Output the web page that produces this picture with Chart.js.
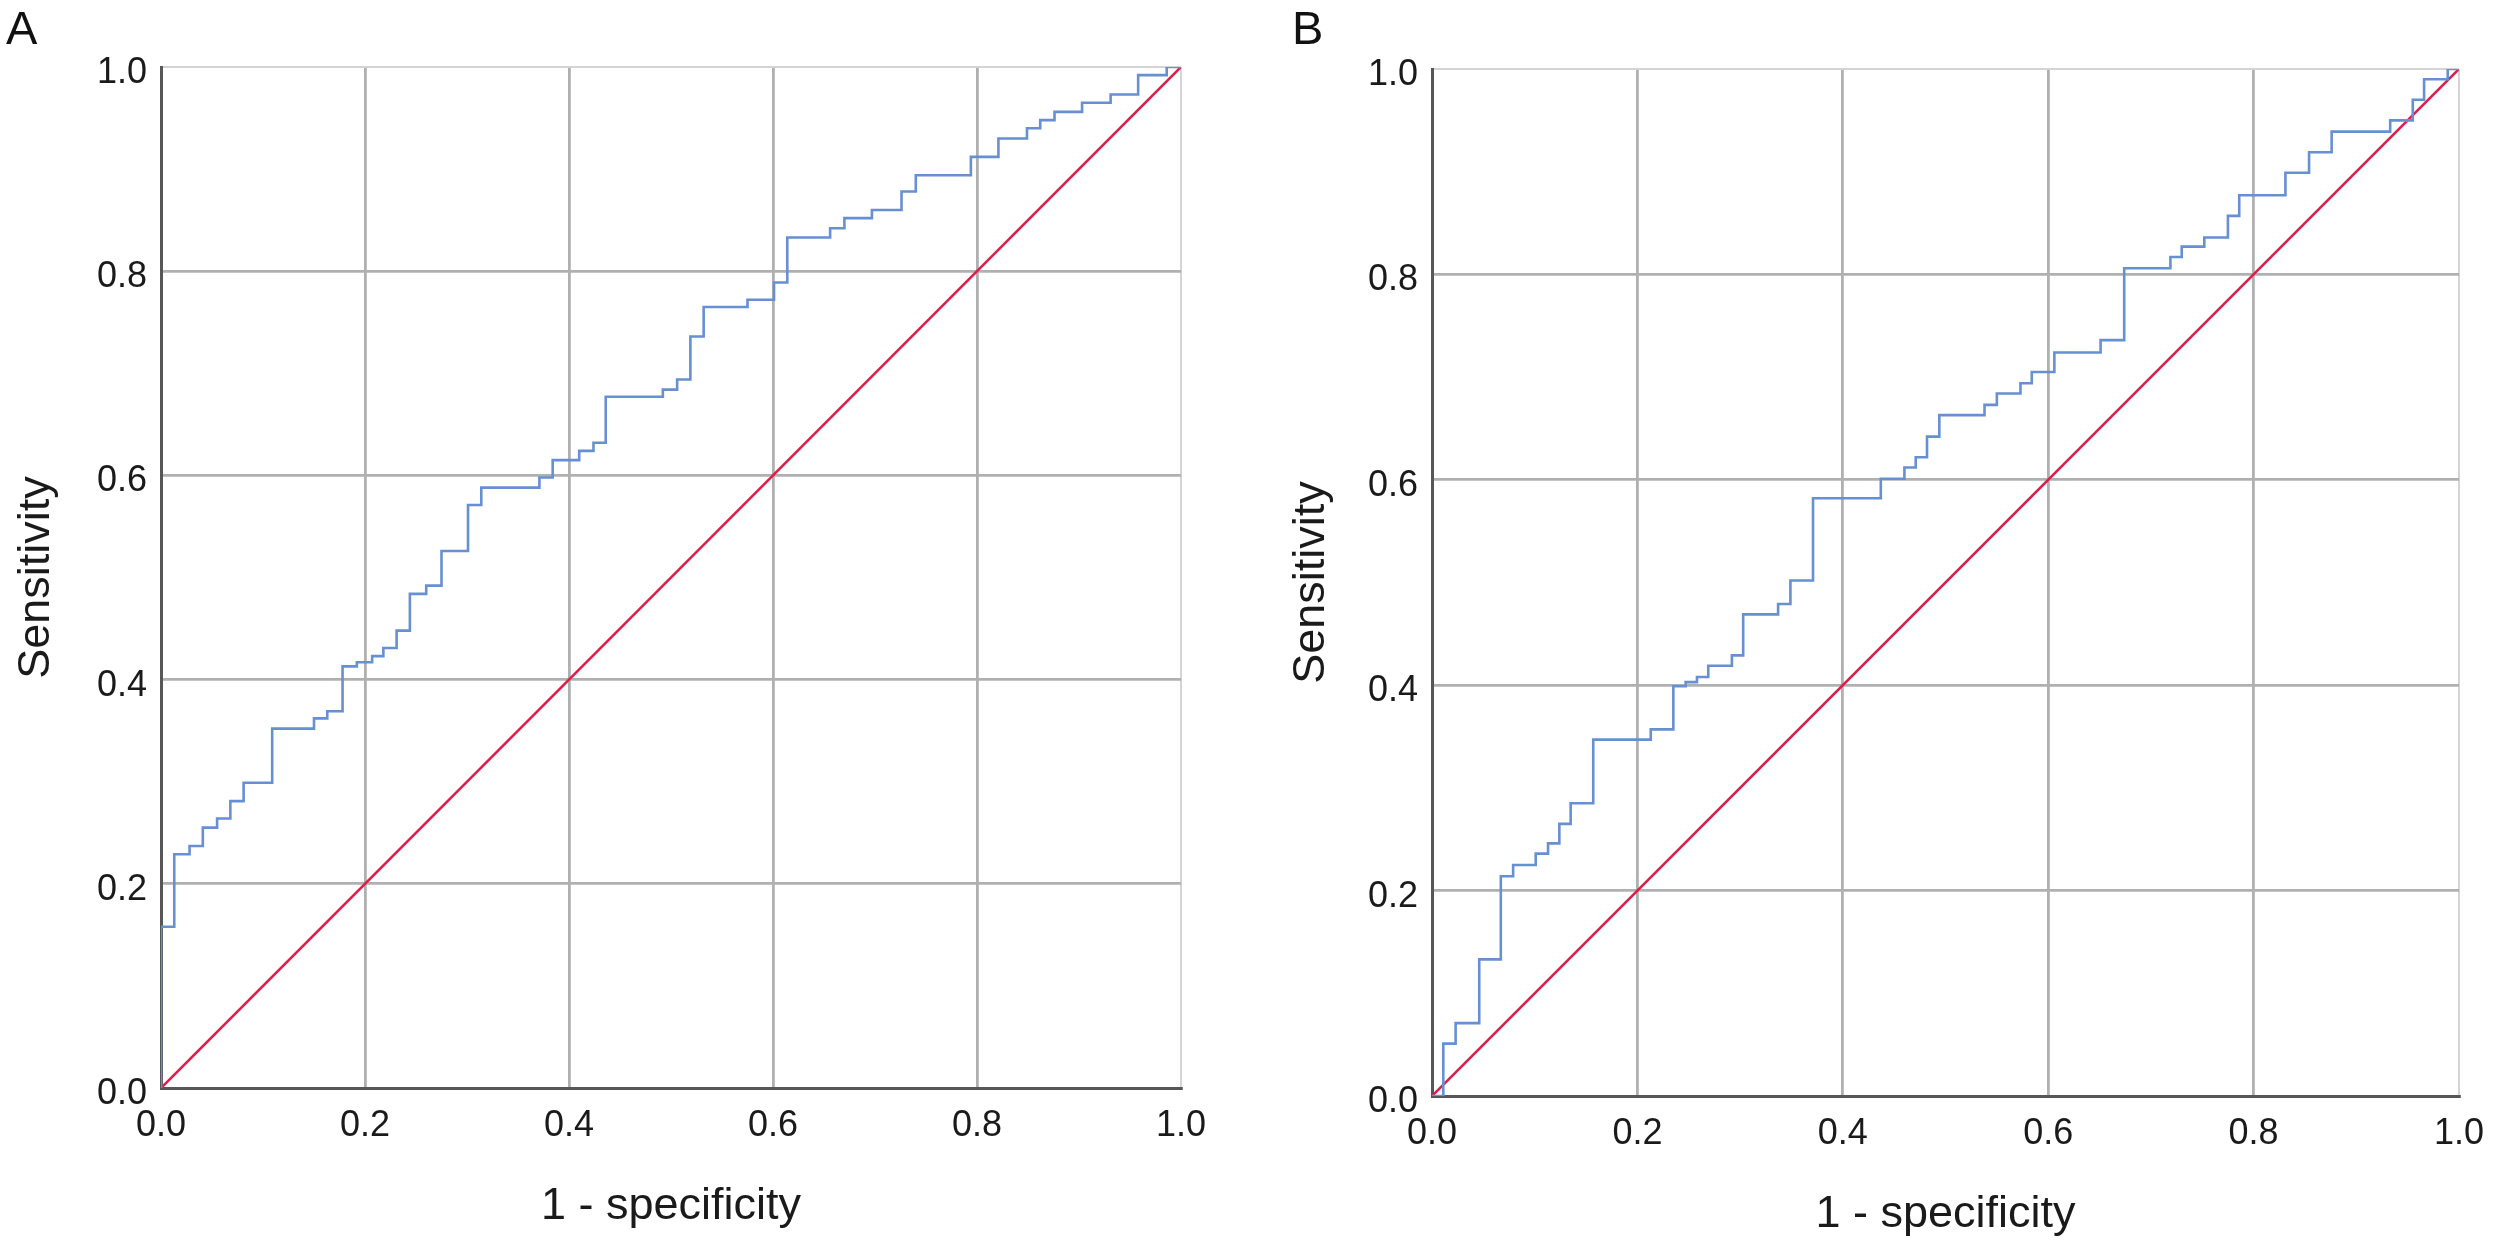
<!DOCTYPE html>
<html>
<head>
<meta charset="utf-8">
<script src="https://cdn.jsdelivr.net/npm/chart.js@4.4.1/dist/chart.umd.min.js"></script>
<style>
html, body { margin: 0; padding: 0; background: #fff; }
body { width: 2508px; height: 1258px; position: relative; overflow: hidden; }
.panel { position: absolute; top: 0; width: 1254px; height: 1258px; }
.tag { position: absolute; top: 0px; font: 47px "Liberation Sans", Arial, sans-serif; color: #111; line-height: 1.2; }
</style>
</head>
<body>
<div class="panel" style="left:0"><canvas id="rocA"></canvas></div>
<div class="panel" style="left:1254px"><canvas id="rocB"></canvas></div>
<div class="tag" style="left:6px">A</div>
<div class="tag" style="left:1292px">B</div>
<script>
// ROC curve A: step vertices (1 - specificity, sensitivity)
var rocAx = [0, 0, 0.013, 0.028, 0.041, 0.055, 0.068, 0.081, 0.109, 0.150, 0.163, 0.178, 0.192, 0.207, 0.218, 0.231, 0.244, 0.260, 0.275, 0.301, 0.314, 0.371, 0.384, 0.410, 0.424, 0.436, 0.492, 0.506, 0.519, 0.532, 0.575, 0.601, 0.614, 0.656, 0.670, 0.697, 0.726, 0.740, 0.794, 0.821, 0.849, 0.862, 0.876, 0.903, 0.931, 0.958, 0.986, 1.0];
var rocAy = [0, 0.158, 0.229, 0.237, 0.255, 0.264, 0.281, 0.299, 0.352, 0.362, 0.369, 0.413, 0.417, 0.423, 0.431, 0.448, 0.484, 0.492, 0.526, 0.571, 0.588, 0.598, 0.615, 0.624, 0.632, 0.677, 0.684, 0.694, 0.736, 0.765, 0.772, 0.789, 0.833, 0.842, 0.852, 0.860, 0.878, 0.894, 0.912, 0.930, 0.940, 0.948, 0.956, 0.965, 0.973, 0.992, 1.0, 1.0];

// ROC curve B
var rocBx = [0, 0.011, 0.023, 0.046, 0.067, 0.079, 0.101, 0.113, 0.124, 0.135, 0.157, 0.213, 0.235, 0.247, 0.258, 0.269, 0.292, 0.303, 0.337, 0.349, 0.371, 0.437, 0.460, 0.471, 0.482, 0.494, 0.538, 0.550, 0.573, 0.584, 0.606, 0.651, 0.674, 0.719, 0.730, 0.752, 0.775, 0.786, 0.831, 0.854, 0.876, 0.933, 0.955, 0.966, 0.989, 1.0];
var rocBy = [0, 0.051, 0.071, 0.133, 0.214, 0.225, 0.236, 0.246, 0.265, 0.285, 0.347, 0.357, 0.399, 0.403, 0.408, 0.419, 0.429, 0.469, 0.479, 0.502, 0.582, 0.601, 0.612, 0.622, 0.642, 0.663, 0.673, 0.684, 0.694, 0.705, 0.724, 0.736, 0.806, 0.817, 0.827, 0.836, 0.857, 0.877, 0.899, 0.919, 0.939, 0.950, 0.970, 0.990, 1.0, 1.0];

// reference diagonal
var refX = [0, 1];
var refY = [0, 1];

var tickValues = [0, 0.2, 0.4, 0.6, 0.8, 1.0];
var tickLabels = ["0.0", "0.2", "0.4", "0.6", "0.8", "1.0"];

var xTitle = "1 - specificity";
var yTitle = "Sensitivity";

var blueLine = "#6790d2";
var redLine = "#e01d48";
var fontName = "'Liberation Sans', Arial, sans-serif";

function gridColor(ctx) {
    return (ctx.tick && ctx.tick.value > 0.99) ? "#d4d4d4" : "#b0b0b0";
}

function gridWidth(ctx) {
    return (ctx.tick && ctx.tick.value > 0.99) ? 2 : 2.8;
}

function axis(opt, horizontal) {
    return {
        type: "linear",
        min: 0,
        max: 1,
        afterBuildTicks: function (s) {
            s.ticks = tickValues.map(function (v) { return { value: v }; });
        },
        afterFit: function (s) {
            if (horizontal) s.height = opt.xH; else s.width = opt.yW;
        },
        grid: { color: gridColor, lineWidth: gridWidth, drawTicks: false },
        border: { color: "#575757", width: 3 },
        ticks: {
            padding: horizontal ? 16 : 14,
            labelOffset: horizontal ? 0 : 6,
            color: "#1a1a1a",
            font: { family: fontName, size: 36 },
            maxRotation: 0,
            autoSkip: false,
            callback: function (v, i) { return tickLabels[i]; }
        },
        title: {
            display: true,
            text: horizontal ? xTitle : yTitle,
            color: "#1a1a1a",
            font: { family: fontName, size: 45 },
            padding: horizontal ? { top: 0, bottom: opt.xPad } : { top: opt.yPad, bottom: 0 }
        }
    };
}

function makeRoc(id, xs, ys, opt) {
    var curve = xs.map(function (x, i) { return { x: x, y: ys[i] }; });
    var diag = refX.map(function (x, i) { return { x: x, y: refY[i] }; });
    return new Chart(id, {
        type: "line",
        data: {
            datasets: [
                { data: curve, borderColor: blueLine, borderWidth: 2.6, stepped: "before", pointRadius: 0, fill: false },
                { data: diag, borderColor: redLine, borderWidth: 2.6, pointRadius: 0, fill: false }
            ]
        },
        options: {
            responsive: true,
            maintainAspectRatio: false,
            devicePixelRatio: 1,
            animation: false,
            layout: { padding: { top: opt.top, right: opt.right, left: 0, bottom: 0 } },
            plugins: { legend: { display: false }, tooltip: { enabled: false } },
            scales: {
                x: axis(opt, true),
                y: axis(opt, false)
            }
        }
    });
}

makeRoc("rocA", rocAx, rocAy, { top: 67, right: 73, xH: 170, yW: 161, xPad: 24, yPad: 10 });
makeRoc("rocB", rocBx, rocBy, { top: 69, right: 49, xH: 162, yW: 178, xPad: 16, yPad: 31 });
</script>
</body>
</html>
